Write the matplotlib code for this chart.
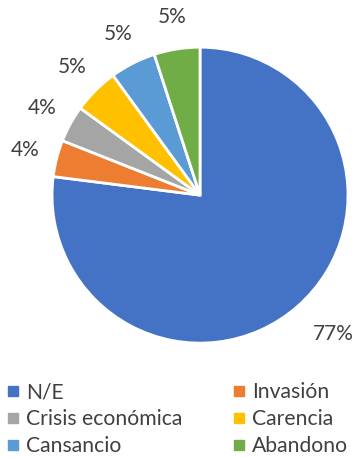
import numpy as np
import matplotlib
matplotlib.use("Agg")
import matplotlib.pyplot as plt
from matplotlib.lines import Line2D

plt.rcParams['font.family'] = ['Lato', 'DejaVu Sans']

labels = ["N/E", "Invasión", "Crisis económica", "Carencia", "Cansancio", "Abandono"]
values = [77, 4, 4, 5, 5, 5]
colors = ["#4472C4", "#ED7D31", "#A5A5A5", "#FFC000", "#5B9BD5", "#70AD47"]
text_color = "#404040"

fig = plt.figure(figsize=(3.54, 4.57), dpi=100)
ax = fig.add_axes([0.147, 0.249, 0.836, 0.648])

wedges, texts, autotexts = ax.pie(
    values, colors=colors, startangle=90, counterclock=False,
    autopct="%d%%", pctdistance=1.22,
    wedgeprops=dict(edgecolor="white", linewidth=2),
    textprops=dict(color=text_color, fontsize=15),
)
ax.set_xlim(-1, 1)
ax.set_ylim(-1, 1)
ax.set_aspect("equal")

# big slice label sits a bit further out, like Excel's outside-end placement
w = wedges[0]
ang = np.deg2rad((w.theta1 + w.theta2) / 2 + 2.5)
autotexts[0].set_position((1.3 * np.cos(ang), 1.3 * np.sin(ang)))

# legend row order: N/E, Invasión / Crisis, Carencia / Cansancio, Abandono
order = [0, 2, 4, 1, 3, 5]
handles = [Line2D([], [], marker="s", linestyle="", markersize=6.5,
                  markerfacecolor=colors[i], markeredgecolor=colors[i]) for i in order]
fig.legend(handles, [labels[i] for i in order], ncol=2, loc="lower left",
           bbox_to_anchor=(-0.01, -0.024), frameon=False, fontsize=15.2,
           labelcolor=text_color, handlelength=0.5, handletextpad=0.35,
           columnspacing=2.45, labelspacing=0.33, borderaxespad=0.15)

fig.savefig("out.png", dpi=100)
